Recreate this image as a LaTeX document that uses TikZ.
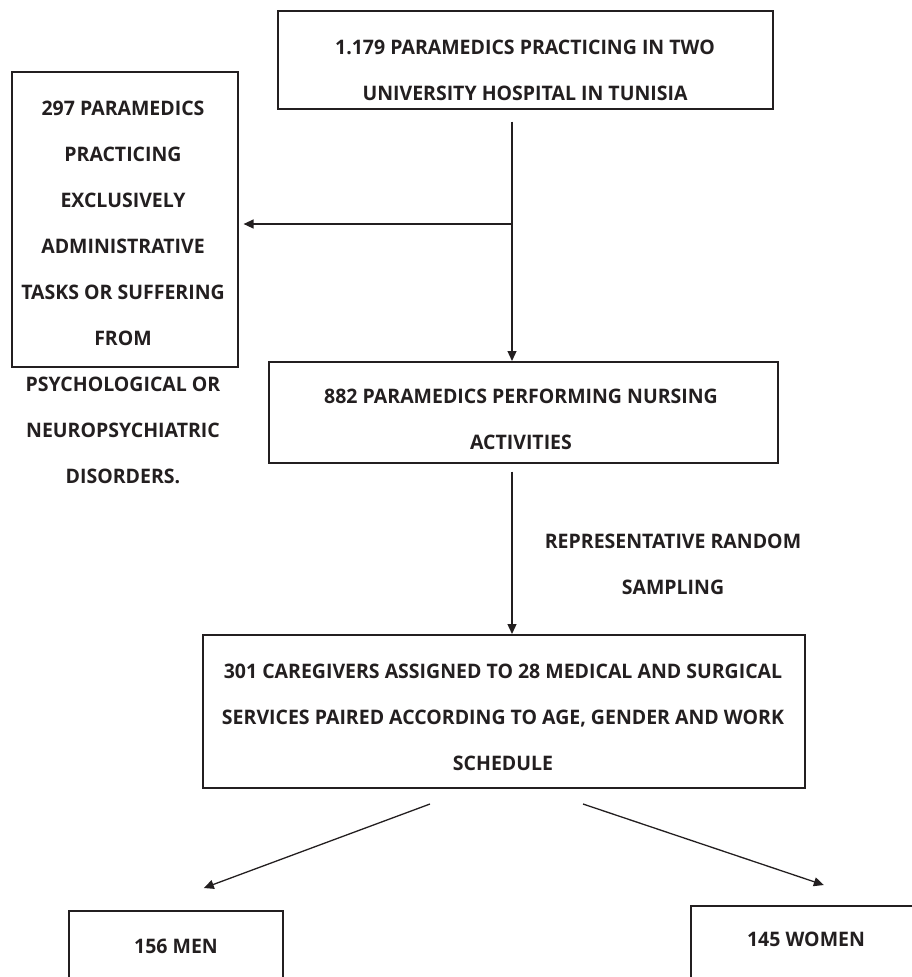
\documentclass[tikz,border=0pt]{standalone}
\usepackage{fontspec}
\setmainfont{Open Sans}[FakeStretch=0.975]
\usetikzlibrary{arrows.meta,calc}
\definecolor{ink}{HTML}{231F20}
\begin{document}
\begin{tikzpicture}[x=1pt,y=-1pt,
  box/.style={draw=ink, line width=1.6pt, inner sep=0pt, anchor=north west},
  lbl/.style={font=\bfseries\fontsize{20}{46}\selectfont, align=center, text=ink, inner sep=0pt, anchor=north},
  arr/.style={draw=ink, line width=1.3pt, -{Triangle[length=10pt,width=9pt]}}]
\useasboundingbox (0,0) rectangle (912,977);
\clip (0,0) rectangle (912,977);
% boxes
\node[box, minimum width=495pt, minimum height=98pt] (top) at (277,10) {};
\node[box, minimum width=226pt, minimum height=295pt] (left) at (11,71) {};
\node[box, minimum width=509pt, minimum height=101pt] (mid) at (268,361) {};
\node[box, minimum width=602pt, minimum height=153pt] (big) at (202,634) {};
\node[box, minimum width=214pt, minimum height=120pt] (men) at (68,910) {};
\node[box, minimum width=260pt, minimum height=120pt] (women) at (690,905) {};
% texts
\node[lbl] (toptxt) at (525,40) {1.179 PARAMEDICS PRACTICING IN TWO\\UNIVERSITY HOSPITAL IN TUNISIA};
\node[lbl] (lefttxt) at (123,101) {297 PARAMEDICS\\PRACTICING\\EXCLUSIVELY\\ADMINISTRATIVE\\TASKS OR SUFFERING\\FROM\\PSYCHOLOGICAL OR\\NEUROPSYCHIATRIC\\DISORDERS.};
\node[lbl] (midtxt) at (521,389) {882 PARAMEDICS PERFORMING NURSING\\ACTIVITIES};
\node[lbl] (samp) at (673,534) {REPRESENTATIVE RANDOM\\SAMPLING};
\node[lbl] (bigtxt) at (503,664) {301 CAREGIVERS ASSIGNED TO 28 MEDICAL AND SURGICAL\\SERVICES PAIRED ACCORDING TO AGE, GENDER AND WORK\\SCHEDULE};
\node[lbl] (mentxt) at (176,939) {156 MEN};
\node[lbl] (womentxt) at (806,932) {145 WOMEN};
% connectors
\coordinate (j1) at (512,224);
\coordinate (d1) at (430,804);
\coordinate (d2) at (583,804);
\draw[arr] ([yshift=-12pt]top.south -| j1) -- (j1 |- mid.north);
\draw[arr] (j1) -- ([xshift=5pt]left.east |- j1);
\draw[arr] ([yshift=-8pt]mid.south -| j1) -- (j1 |- big.north);
\draw[arr] (d1) -- ($(men.north)+(28,-22)$);
\draw[arr] (d2) -- ($(women.north)+(3,-20)$);
\end{tikzpicture}
\end{document}
